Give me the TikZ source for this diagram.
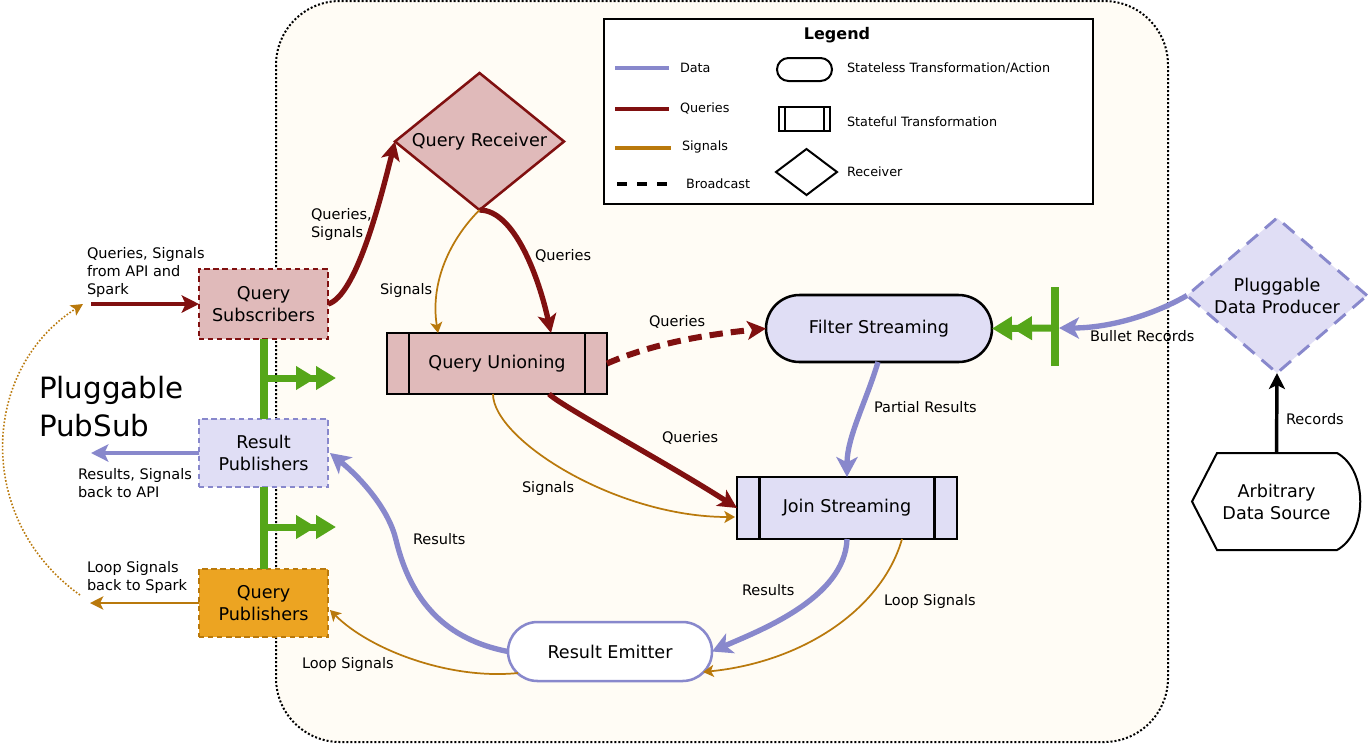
\documentclass[tikz,border=0pt]{standalone}
\usepackage{fontspec}
\setmainfont{DejaVu Sans}
\usetikzlibrary{arrows.meta,shapes.geometric,shapes.misc,calc}
\definecolor{qred}{RGB}{128,16,16}
\definecolor{dlav}{RGB}{136,136,204}
\definecolor{sorange}{RGB}{185,121,12}
\definecolor{pinkfill}{RGB}{224,186,186}
\definecolor{lavfill}{RGB}{224,222,245}
\definecolor{orfill}{RGB}{236,164,34}
\definecolor{pgreen}{RGB}{85,166,25}
\definecolor{bgcream}{RGB}{255,252,245}
\begin{document}
\begin{tikzpicture}[x=0.75pt,y=-0.75pt,
  every node/.style={inner sep=0pt, outer sep=0pt},
  ttl/.style={font=\fontsize{13.2}{16.5}\selectfont, align=center},
  lbl/.style={font=\fontsize{10.9}{13.5}\selectfont, anchor=west, align=left},
  leg/.style={font=\fontsize{9.6}{11}\selectfont, anchor=west},
  stateful/.style={rectangle, draw=black, line width=1.9pt, ttl,
    path picture={\draw[black, line width=1.9pt]
      ([xshift=#1]path picture bounding box.south west) -- ([xshift=#1]path picture bounding box.north west)
      ([xshift=-#1]path picture bounding box.south east) -- ([xshift=-#1]path picture bounding box.north east);}},
  stateful/.default=16.5pt,
  pubbox/.style={rectangle, line width=2.2pt, dash pattern=on 4pt off 2.8pt, minimum width=96.75pt, ttl},
  qline/.style={draw=qred, line width=4pt, -{Stealth[length=14pt,width=14pt,inset=3.5pt]}},
  dline/.style={draw=dlav, line width=4pt, -{Stealth[length=15pt,width=16pt,inset=4pt]}},
  sline/.style={draw=sorange, line width=1.3pt, -{Stealth[length=8pt,width=9pt,inset=2pt]}},
  qmed/.style={draw=qred, line width=3pt, -{Stealth[length=13pt,width=13pt,inset=3pt]}},
  dmed/.style={draw=dlav, line width=2.5pt, -{Stealth[length=13pt,width=13pt,inset=3pt]}},
  smed/.style={draw=sorange, line width=1.75pt, -{Stealth[length=10pt,width=10pt,inset=2.5pt]}},
  kline/.style={draw=black, line width=2.6pt, -{Stealth[length=12pt,width=12pt,inset=3pt]}},
  gline/.style={draw=pgreen, line width=6pt},
  garrow/.style={draw=pgreen, line width=5.25pt, -{Triangle[length=15pt,width=17pt]Triangle[length=15pt,width=17pt]}}
]
\useasboundingbox (0,0) rectangle (1369,744);
% background region
\draw[fill=bgcream, draw=black, line width=1.5pt, dash pattern=on 1.5pt off 1.5pt, rounded corners=48pt] (276,1) rectangle (1168,742);

% legend
\node[draw=black, line width=1.5pt, fill=white, minimum width=366.75pt, minimum height=138.75pt] (leg) at (848.5,111.5) {};
\node[font=\bfseries\fontsize{12}{14}\selectfont] (legt) at (837,35) {Legend};
\draw[dlav, line width=3pt] (615,68) -- (669,68);
\draw[qred, line width=3pt] (615,109) -- (669,109);
\draw[sorange, line width=3pt] (615,148) -- (671,148);
\draw[black, line width=3.5pt, dash pattern=on 7.5pt off 7.5pt] (617,184) -- (668,184);
\node[leg] (ld) at (680,68) {Data};
\node[leg] (lq) at (680,108) {Queries};
\node[leg] (ls) at (682,147) {Signals};
\node[leg] (lb) at (686,184) {Broadcast};
\node[rounded rectangle, draw, line width=1.5pt, minimum width=41.25pt, minimum height=17.25pt] (lsl) at (804.5,69.5) {};
\node[rectangle, draw, line width=1.5pt, minimum width=38.25pt, minimum height=18pt,
  path picture={\draw[line width=1.5pt]
    ([xshift=4.5pt]path picture bounding box.south west) -- ([xshift=4.5pt]path picture bounding box.north west)
    ([xshift=-4.5pt]path picture bounding box.south east) -- ([xshift=-4.5pt]path picture bounding box.north east);}] (lsf) at (804.5,119) {};
\node[diamond, draw, line width=1.5pt, minimum width=45.75pt, minimum height=34.5pt] (lrc) at (806.5,172) {};
\node[leg] (lslt) at (847,68) {Stateless Transformation/Action};
\node[leg] (lsft) at (847,122) {Stateful Transformation};
\node[leg] (lrct) at (847,172) {Receiver};

% main nodes
\node[diamond, draw=qred, line width=1.9pt, fill=pinkfill, ttl, aspect=1.23, minimum width=126.75pt, minimum height=102.75pt] (qr) at (479.5,141.5) {Query Receiver};
\node[stateful, fill=pinkfill, minimum width=165pt, minimum height=45.75pt] (qu) at (497,363.5) {Query Unioning};
\node[rounded rectangle, draw=black, line width=1.9pt, fill=lavfill, ttl, minimum width=169.5pt, minimum height=50.25pt] (fs) at (879,328.5) {Filter Streaming};
\node[stateful=17pt, fill=lavfill, minimum width=165pt, minimum height=46.5pt] (js) at (847,508) {Join Streaming};
\node[rounded rectangle, draw=dlav, line width=1.9pt, fill=white, ttl, minimum width=153pt, minimum height=44.25pt] (re) at (610,651.5) {Result Emitter};
\node[pubbox, draw=qred, fill=pinkfill, minimum height=52.5pt] (qs) at (263.5,304) {Query\\Subscribers};
\node[pubbox, draw=dlav, fill=lavfill, minimum height=51pt] (rp) at (263.5,453) {Result\\Publishers};
\node[pubbox, draw=sorange, fill=orfill, minimum height=51pt] (qp) at (263.5,603) {Query\\Publishers};
\node[diamond, draw=dlav, line width=2.2pt, dash pattern=on 11pt off 7pt, fill=lavfill, ttl, aspect=1.16, minimum width=135pt, minimum height=116.25pt] (pdp) at (1277,295.5) {Pluggable\\Data Producer};
\draw[line width=1.5pt, fill=white] (1192,501.5) -- (1217,453) -- (1337,453) .. controls (1368,470) and (1368,533) .. (1337,550) -- (1217,550) -- cycle;
\node[ttl, minimum width=126.75pt, minimum height=72.75pt] (ads) at (1276.5,501.5) {Arbitrary\\Data Source};

% pubsub green bus
\draw[gline] (qs.south) -- (rp.north);
\draw[gline] (rp.south) -- (qp.north);
\coordinate (g1) at (263,378); \coordinate (g1e) at (336,378);
\coordinate (g2) at (263,527); \coordinate (g2e) at (336,527);
\draw[garrow] (g1) -- (g1e);
\draw[garrow] (g2) -- (g2e);
% filter green bar
\coordinate (gbt) at (1055,287); \coordinate (gbb) at (1055,366); \coordinate (gb) at (1055,328);
\draw[gline] (gbt) -- (gbb);
\draw[garrow] (gb) -- (fs.east);

% outside arrows
\coordinate (inq) at (91,304);
\coordinate (outr) at (91,453);
\coordinate (outl) at (90,603);
\draw[qmed] (inq) -- (qs.west);
\draw[dmed] (rp.west) -- (outr);
\draw[smed] (qp.west) -- (outl);
\coordinate (arcs) at (80,595); \coordinate (arce) at (83,304);
\draw[draw=sorange, line width=1.2pt, dash pattern=on 1.2pt off 1.4pt, -{Stealth[length=9pt,width=9pt,inset=2pt]}] (arcs) .. controls (-25,520) and (-20,370) .. (arce);

% connectors
\draw[qline] (qs.east) .. controls +(28,-8) and +(-15,60) .. (qr.west);
\draw[qline] (qr.south) .. controls +(35,0) and +(-12,-55) .. ($(qu.north)+(54,0)$);
\draw[sline] (qr.south) .. controls +(-30,30) and +(-8,-50) .. ($(qu.north)+(-59,0)$);
\draw[qline, line width=4.5pt, dash pattern=on 10pt off 6pt] (qu.east) .. controls +(50,-22) and +(-50,5) .. (fs.west);
\draw[qline] ($(qu.south)+(52,0)$) .. controls +(12,12) and +(-70,-45) .. (js.west);
\draw[sline] ($(qu.south)+(-4,0)$) .. controls +(0,45) and +(-120,0) .. ($(js.west)+(-2,9)$);
\draw[dline] ($(fs.south)+(-1,0)$) .. controls +(-12,40) and +(0,-40) .. (js.north);
\draw[dline] (js.south) .. controls +(-2,60) and +(45,-20) .. (re.east);
\draw[sline] ($(js.south)+(55,0)$) .. controls +(-20,70) and +(100,-10) .. ($(re.east)+(-9,20.5)$);
\coordinate (w1) at (396,540);
\draw[dline] (re.west) .. controls +(-62,-12) and +(15,62) .. (w1) .. controls +(-7,-30) and +(32,26) .. ($(rp.east)+(2,0)$);
\draw[sline] ($(re.center)+(-92,21.5)$) .. controls +(-68,7) and +(40,40) .. ($(qp.east)+(2,7)$);
\draw[dline] (pdp.west) .. controls +(-35,20) and +(50,0) .. ($(gb)+(4,0)$);
\draw[kline] (ads.north) -- (pdp.south);

% labels
\node[lbl] (t1) at (87,272) {Queries, Signals\\from API and\\Spark};
\node[lbl] (t2) at (78,483.5) {Results, Signals\\back to API};
\node[lbl] (t3) at (87,577) {Loop Signals\\back to Spark};
\node[font=\fontsize{22}{28.5}\selectfont, anchor=west, align=left] (t4) at (39,407) {Pluggable\\PubSub};
\node[lbl] (t5) at (311,224.5) {Queries,\\Signals};
\node[lbl] (t6) at (380,290) {Signals};
\node[lbl] (t7) at (535,256) {Queries};
\node[lbl] (t8) at (649,322) {Queries};
\node[lbl] (t9) at (662,438) {Queries};
\node[lbl] (t10) at (874,407) {Partial Results};
\node[lbl] (t11) at (522,488) {Signals};
\node[lbl] (t12) at (742,590) {Results};
\node[lbl] (t13) at (884,601) {Loop Signals};
\node[lbl] (t14) at (413,539) {Results};
\node[lbl] (t15) at (302,664) {Loop Signals};
\node[lbl] (t16) at (1090,336) {Bullet Records};
\node[lbl] (t17) at (1286,419) {Records};
\end{tikzpicture}
\end{document}
